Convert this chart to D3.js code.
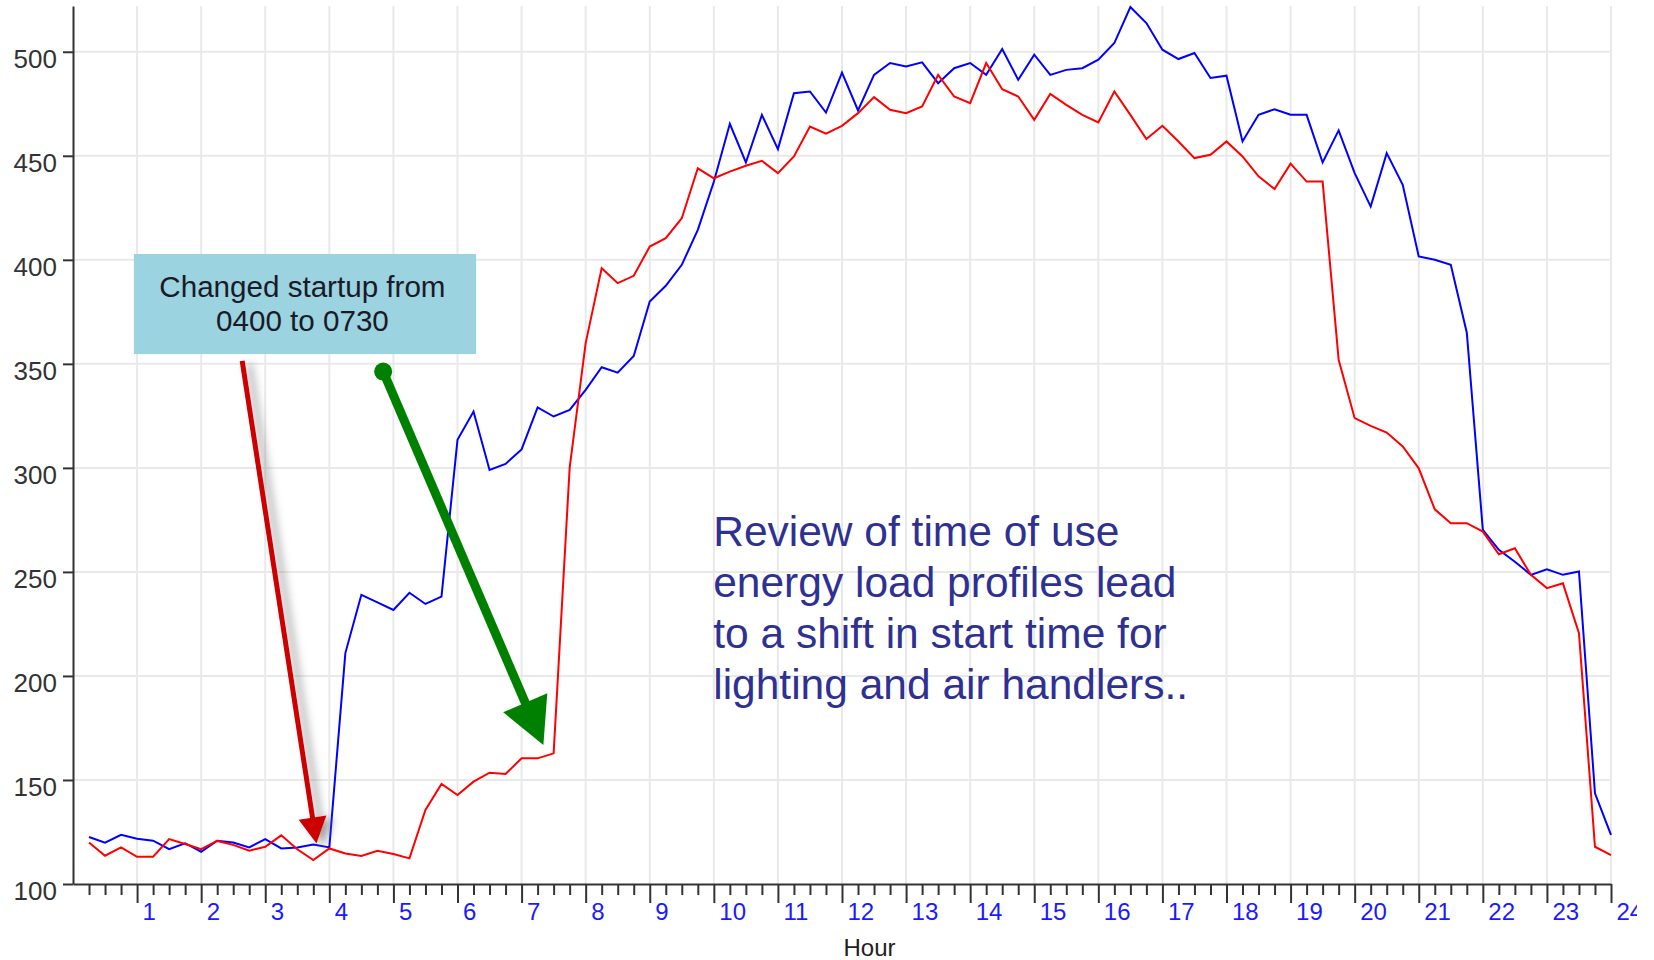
<!DOCTYPE html>
<html>
<head>
<meta charset="utf-8">
<script src="https://cdn.jsdelivr.net/npm/d3@7"></script>
<style>
  body { margin: 0; background: #fff; }
  svg { display: block; font-family: 'Liberation Sans', Arial, sans-serif; }
</style>
</head>
<body>
<div id="chart"></div>
<script>
// 15 minute readings, 0:15 through 24:00
const quarterHours = d3.range(1, 97).map(i => i / 4)

// before the change (blue) and after it (red)
const blueLoad = [
  122.6, 119.9, 123.6, 121.8, 120.8, 116.7, 119.6, 115.5, 120.8, 119.9, 117.6, 121.6, 117.1, 117.6, 119.0, 117.6,
  211, 239, 235.4, 231.7, 240, 234.6, 238.1, 313.5,
  327.1, 299, 301.9, 308.9, 329.1, 324.7, 327.9, 337.5, 348.4, 345.8, 353.8, 380, 387.5, 397.6, 414.4, 437.5,
  465.4, 446.8, 469.7, 453.2, 480.1, 480.9, 470.8, 490, 471.8, 488.9, 494.6, 492.9, 494.9, 484.9, 492.1, 494.6,
  488.9, 501.3, 486.5, 498.6, 488.9, 491.3, 492.1, 496.2, 504.2, 521.5, 513.8,
  501, 496.5, 499.4, 487.4, 488.5, 456.9, 469.7, 472.4, 469.7, 469.7, 446.8, 462.2, 441.7, 425.6, 451.3, 436.1,
  401.6, 400, 397.6, 365,
  270.2, 260.6, 254.9, 248.6, 251.3, 248.6, 250.2, 143.6, 123.6
]

const redLoad = [
  119.9, 113.6, 117.6, 113.1, 113.1, 121.6, 119.2, 116.7, 120.7, 118.8, 116.0, 117.9, 123.4, 116.7, 111.5, 117.1,
  114.7, 113.5, 116.0, 114.4, 112.3, 135.6, 148.1, 142.8, 149.2, 153.5, 152.9, 160.4, 160.4, 162.8,
  300, 360, 396, 388.8, 392.3, 406.4, 410.4, 420, 444, 439.2,
  442.4, 445.2, 447.6, 441.7, 449.7, 464.1, 460.6, 464.4, 470.5, 478.2, 472.1, 470.5, 473.7, 488.9, 478.5, 475.3,
  494.6, 482, 478.5, 467.3, 479.7, 474.5, 469.7, 466, 480.9, 469.7, 458.1,
  464.4, 456.9, 448.9, 450.5, 456.9, 449.7, 440.1, 434, 446.2, 437.6, 437.6,
  352, 323.9, 320.2, 317, 310.3, 299.8, 280.1, 273.4, 273.4, 269.4, 258.5, 261.4, 248.6, 242.2, 244.5, 220.5,
  117.9, 113.9
]

const hourTicks = d3.range(1, 25)
const loadTicks = [100, 150, 200, 250, 300, 350, 400, 450, 500]
const xTitle = 'Hour'
const boxLines = ['Changed startup from', '0400 to 0730']
const noteLines = [
  'Review of time of use',
  'energy load profiles lead',
  'to a shift in start time for',
  'lighting and air handlers..'
]

let margin = { top: 6, left: 73, right: 43, bottom: 76 }
let width = 1654 - margin.left - margin.right
let height = 960 - margin.top - margin.bottom

const root = d3.select('#chart')
  .append('svg')
  .attr('width', 1654)
  .attr('height', 960)

const defs = root.append('defs')
defs.append('clipPath').attr('id', 'cut')
  .append('rect').attr('x', 0).attr('y', 0).attr('width', 1637).attr('height', 960)
defs.append('filter').attr('id', 'shadow')
  .attr('x', '-50%').attr('y', '-10%').attr('width', '200%').attr('height', '120%')
  .append('feDropShadow')
  .attr('dx', 7).attr('dy', 3).attr('stdDeviation', 4)
  .attr('flood-color', '#666').attr('flood-opacity', 0.6)

let svg = root.append('g')
  .attr('clip-path', 'url(#cut)')
  .append('g')
  .attr('transform', 'translate(' + margin.left + ',' + margin.top + ')')

const xScale = d3.scaleLinear().domain([0, 24]).range([0, width])
const yScale = d3.scaleLinear().domain([100, 522]).range([height, 0])

// grid
svg.selectAll('.vgrid')
  .data(hourTicks)
  .enter()
  .append('line')
  .attr('class', 'vgrid')
  .attr('x1', d => xScale(d))
  .attr('x2', d => xScale(d))
  .attr('y1', 0)
  .attr('y2', height)
  .attr('stroke', '#e9e9e9')
  .attr('stroke-width', 2)

svg.selectAll('.hgrid')
  .data(loadTicks.slice(1))
  .enter()
  .append('line')
  .attr('class', 'hgrid')
  .attr('x1', 0)
  .attr('x2', width)
  .attr('y1', d => yScale(d))
  .attr('y2', d => yScale(d))
  .attr('stroke', '#e9e9e9')
  .attr('stroke-width', 2)

// load lines
const line = d3.line()
  .x((d, i) => xScale(quarterHours[i]))
  .y(d => yScale(d))

svg.append('path')
  .datum(blueLoad)
  .attr('d', line)
  .attr('fill', 'none')
  .attr('stroke', '#0000ff')
  .attr('stroke-width', 2)

svg.append('path')
  .datum(redLoad)
  .attr('d', line)
  .attr('fill', 'none')
  .attr('stroke', '#ff0000')
  .attr('stroke-width', 2)

// axes
const yAxis = d3.axisLeft(yScale).tickValues(loadTicks).tickSize(10).tickPadding(6).tickSizeOuter(0)
const yG = svg.append('g').call(yAxis)
yG.selectAll('path, line').attr('stroke', '#333').attr('stroke-width', 2)
yG.selectAll('text')
  .attr('y', 7)
  .attr('font-size', 26)
  .attr('font-family', null)
  .attr('fill', '#333')

const minorAxis = d3.axisBottom(xScale)
  .tickValues(quarterHours.filter(d => d % 1 !== 0))
  .tickSize(11)
  .tickFormat('')
const minorG = svg.append('g').attr('transform', 'translate(0,' + height + ')').call(minorAxis)
minorG.select('.domain').remove()
minorG.selectAll('line').attr('stroke', '#333').attr('stroke-width', 2)

const xAxis = d3.axisBottom(xScale)
  .tickValues(hourTicks)
  .tickSize(19)
  .tickPadding(0)
  .tickSizeOuter(0)
  .tickFormat(d => d)
const xG = svg.append('g').attr('transform', 'translate(0,' + height + ')').call(xAxis)
xG.selectAll('path, line').attr('stroke', '#333').attr('stroke-width', 2)
xG.selectAll('text')
  .attr('x', 5)
  .attr('text-anchor', 'start')
  .attr('font-size', 24)
  .attr('fill', '#1a1aff')

svg.append('text')
  .attr('x', xScale(12.43))
  .attr('y', height + 72)
  .attr('text-anchor', 'middle')
  .attr('font-size', 24)
  .attr('fill', '#222')
  .text(xTitle)

// callout box
svg.append('rect')
  .attr('x', xScale(0.95))
  .attr('y', yScale(402.8))
  .attr('width', xScale(6.29) - xScale(0.95))
  .attr('height', yScale(354.7) - yScale(402.8))
  .attr('fill', '#9bd3e0')

svg.selectAll('.boxline')
  .data(boxLines)
  .enter()
  .append('text')
  .attr('class', 'boxline')
  .attr('x', xScale(3.58))
  .attr('y', (d, i) => yScale(382.1) + i * 34)
  .attr('text-anchor', 'middle')
  .attr('font-size', 29.6)
  .attr('fill', '#1a1a28')
  .text(d => d)

function arrow(g, from, to, opts) {
  const x0 = xScale(from[0]), y0 = yScale(from[1])
  const x1 = xScale(to[0]), y1 = yScale(to[1])
  const len = Math.hypot(x1 - x0, y1 - y0)
  const ux = (x1 - x0) / len, uy = (y1 - y0) / len
  const bx = x1 - ux * opts.head, by = y1 - uy * opts.head
  g.append('line')
    .attr('x1', x0).attr('y1', y0)
    .attr('x2', bx + ux * 2).attr('y2', by + uy * 2)
    .attr('stroke', opts.color)
    .attr('stroke-width', opts.stroke)
  g.append('path')
    .attr('d', 'M' + x1 + ',' + y1 +
      'L' + (bx - uy * opts.half) + ',' + (by + ux * opts.half) +
      'L' + (bx + uy * opts.half) + ',' + (by - ux * opts.half) + 'Z')
    .attr('fill', opts.color)
  if (opts.dot) {
    g.append('circle').attr('cx', x0).attr('cy', y0).attr('r', opts.dot).attr('fill', opts.color)
  }
}

arrow(svg.append('g').attr('filter', 'url(#shadow)'), [2.64, 351.4], [3.80, 119.5],
  { color: '#cc0000', stroke: 5, head: 26, half: 14 })

arrow(svg.append('g'), [4.84, 346.3], [7.34, 166.8],
  { color: '#008000', stroke: 9, head: 46, half: 24, dot: 9 })

// note
svg.selectAll('.note')
  .data(noteLines)
  .enter()
  .append('text')
  .attr('class', 'note')
  .attr('x', xScale(9.99))
  .attr('y', (d, i) => yScale(262.5) + i * 51)
  .attr('font-size', 42.5)
  .attr('fill', '#2e3192')
  .text(d => d)
</script>
</body>
</html>
